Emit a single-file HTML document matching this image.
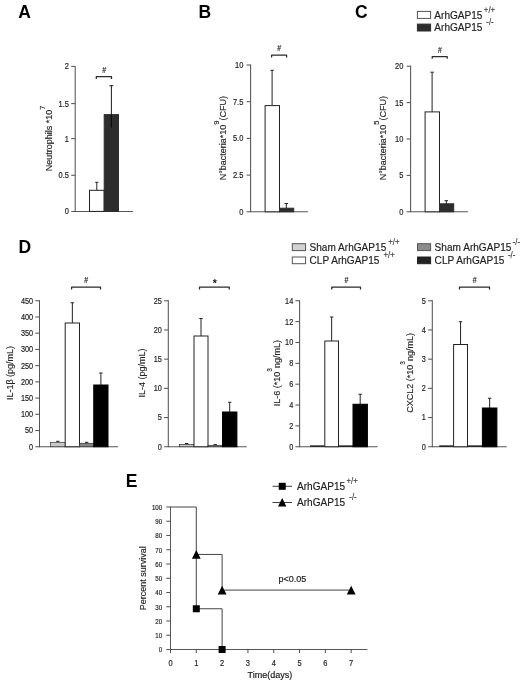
<!DOCTYPE html>
<html lang="en"><head><meta charset="utf-8"><title>Figure</title>
<style>
html,body{margin:0;padding:0;background:#fff}
svg{display:block;font-family:'Liberation Sans', sans-serif}
</style></head><body>
<svg width="520" height="683" viewBox="0 0 520 683">
<rect width="520" height="683" fill="#fff"/>
<g id="fig" style="filter:blur(0.45px)">
<text transform="translate(18.30 18.40) scale(1 1)" font-size="17.5" text-anchor="start" font-weight="bold" fill="#000" stroke="#000" stroke-width="0" >A</text>
<text transform="translate(198.50 18.40) scale(1 1)" font-size="17.5" text-anchor="start" font-weight="bold" fill="#000" stroke="#000" stroke-width="0" >B</text>
<text transform="translate(355.00 18.40) scale(1 1)" font-size="17.5" text-anchor="start" font-weight="bold" fill="#000" stroke="#000" stroke-width="0" >C</text>
<text transform="translate(18.50 252.80) scale(1 1)" font-size="17.5" text-anchor="start" font-weight="bold" fill="#000" stroke="#000" stroke-width="0" >D</text>
<text transform="translate(125.80 486.60) scale(1 1)" font-size="17.5" text-anchor="start" font-weight="bold" fill="#000" stroke="#000" stroke-width="0" >E</text>
<line x1="75.20" y1="65.90" x2="75.20" y2="211.90" stroke="#555" stroke-width="1.05"/>
<line x1="71.20" y1="211.40" x2="132.90" y2="211.40" stroke="#555" stroke-width="1.05"/>
<line x1="71.20" y1="66.40" x2="75.20" y2="66.40" stroke="#555" stroke-width="1.05"/>
<text transform="translate(69.00 69.40) scale(0.88 1)" font-size="8.5" text-anchor="end" font-weight="normal" fill="#222" stroke="#222" stroke-width="0.18" >2</text>
<line x1="71.20" y1="103.60" x2="75.20" y2="103.60" stroke="#555" stroke-width="1.05"/>
<text transform="translate(69.00 106.60) scale(0.88 1)" font-size="8.5" text-anchor="end" font-weight="normal" fill="#222" stroke="#222" stroke-width="0.18" >1.5</text>
<line x1="71.20" y1="138.60" x2="75.20" y2="138.60" stroke="#555" stroke-width="1.05"/>
<text transform="translate(69.00 141.60) scale(0.88 1)" font-size="8.5" text-anchor="end" font-weight="normal" fill="#222" stroke="#222" stroke-width="0.18" >1</text>
<line x1="71.20" y1="175.30" x2="75.20" y2="175.30" stroke="#555" stroke-width="1.05"/>
<text transform="translate(69.00 178.30) scale(0.88 1)" font-size="8.5" text-anchor="end" font-weight="normal" fill="#222" stroke="#222" stroke-width="0.18" >0.5</text>
<text transform="translate(69.00 214.40) scale(0.88 1)" font-size="8.5" text-anchor="end" font-weight="normal" fill="#222" stroke="#222" stroke-width="0.18" >0</text>
<rect x="89.50" y="190.30" width="14.70" height="21.10" fill="#fff" stroke="#222" stroke-width="1"/>
<line x1="96.80" y1="182.30" x2="96.80" y2="190.30" stroke="#222" stroke-width="1"/>
<line x1="95.20" y1="182.30" x2="98.40" y2="182.30" stroke="#222" stroke-width="1"/>
<rect x="104.20" y="114.60" width="14.30" height="96.80" fill="#2d2d2d" stroke="#2d2d2d" stroke-width="1"/>
<line x1="111.40" y1="85.60" x2="111.40" y2="114.60" stroke="#222" stroke-width="1.05"/>
<line x1="111.40" y1="114.60" x2="111.40" y2="127.50" stroke="#0c0c0c" stroke-width="1.2"/>
<line x1="109.40" y1="85.70" x2="113.40" y2="85.70" stroke="#222" stroke-width="1.05"/>
<polyline points="96.30,79.00 96.30,76.70 111.50,76.70 111.50,79.00" fill="none" stroke="#2a2a2a" stroke-width="1.25" stroke-linejoin="round"/>
<text transform="translate(104.10 73.00) scale(0.82 1)" font-size="8.5" text-anchor="middle" font-weight="normal" fill="#222" stroke="#222" stroke-width="0.18" >#</text>
<text transform="translate(51.80 171.20) rotate(-90)" font-size="9" fill="#262626" stroke="#262626" stroke-width="0.15">Neutrophils *10<tspan font-size="7.5" dy="-6.9">7</tspan><tspan dy="6.9" font-size="0.1"> </tspan></text>
<line x1="250.60" y1="64.50" x2="250.60" y2="212.30" stroke="#555" stroke-width="1.05"/>
<line x1="246.60" y1="211.80" x2="307.90" y2="211.80" stroke="#555" stroke-width="1.05"/>
<line x1="246.60" y1="65.00" x2="250.60" y2="65.00" stroke="#555" stroke-width="1.05"/>
<text transform="translate(243.30 68.00) scale(0.88 1)" font-size="8.5" text-anchor="end" font-weight="normal" fill="#222" stroke="#222" stroke-width="0.18" >10</text>
<line x1="246.60" y1="101.70" x2="250.60" y2="101.70" stroke="#555" stroke-width="1.05"/>
<text transform="translate(243.30 104.70) scale(0.88 1)" font-size="8.5" text-anchor="end" font-weight="normal" fill="#222" stroke="#222" stroke-width="0.18" >7.5</text>
<line x1="246.60" y1="138.40" x2="250.60" y2="138.40" stroke="#555" stroke-width="1.05"/>
<text transform="translate(243.30 141.40) scale(0.88 1)" font-size="8.5" text-anchor="end" font-weight="normal" fill="#222" stroke="#222" stroke-width="0.18" >5.0</text>
<line x1="246.60" y1="175.10" x2="250.60" y2="175.10" stroke="#555" stroke-width="1.05"/>
<text transform="translate(243.30 178.10) scale(0.88 1)" font-size="8.5" text-anchor="end" font-weight="normal" fill="#222" stroke="#222" stroke-width="0.18" >2.5</text>
<text transform="translate(243.30 214.80) scale(0.88 1)" font-size="8.5" text-anchor="end" font-weight="normal" fill="#222" stroke="#222" stroke-width="0.18" >0</text>
<rect x="265.10" y="105.60" width="14.40" height="106.20" fill="#fff" stroke="#222" stroke-width="1"/>
<line x1="272.10" y1="70.30" x2="272.10" y2="105.60" stroke="#222" stroke-width="1"/>
<line x1="270.40" y1="70.30" x2="273.80" y2="70.30" stroke="#222" stroke-width="1"/>
<rect x="279.50" y="208.20" width="14.20" height="3.60" fill="#2d2d2d" stroke="#2d2d2d" stroke-width="1"/>
<line x1="286.30" y1="203.50" x2="286.30" y2="208.20" stroke="#222" stroke-width="1"/>
<line x1="284.60" y1="203.50" x2="288.00" y2="203.50" stroke="#222" stroke-width="1"/>
<text transform="translate(225.90 180.30) rotate(-90)" font-size="9" fill="#262626" stroke="#262626" stroke-width="0.15">N°bacteria*10<tspan font-size="7.5" dy="-6.9">9</tspan><tspan dy="6.9" font-size="0.1"> </tspan>(CFU)</text>
<polyline points="271.60,57.40 271.60,55.10 286.60,55.10 286.60,57.40" fill="none" stroke="#2a2a2a" stroke-width="1.25" stroke-linejoin="round"/>
<text transform="translate(279.30 50.90) scale(0.82 1)" font-size="8.5" text-anchor="middle" font-weight="normal" fill="#222" stroke="#222" stroke-width="0.18" >#</text>
<line x1="410.60" y1="65.70" x2="410.60" y2="212.30" stroke="#555" stroke-width="1.05"/>
<line x1="406.60" y1="211.80" x2="467.90" y2="211.80" stroke="#555" stroke-width="1.05"/>
<line x1="406.60" y1="66.20" x2="410.60" y2="66.20" stroke="#555" stroke-width="1.05"/>
<text transform="translate(403.30 69.20) scale(0.88 1)" font-size="8.5" text-anchor="end" font-weight="normal" fill="#222" stroke="#222" stroke-width="0.18" >20</text>
<line x1="406.60" y1="102.60" x2="410.60" y2="102.60" stroke="#555" stroke-width="1.05"/>
<text transform="translate(403.30 105.60) scale(0.88 1)" font-size="8.5" text-anchor="end" font-weight="normal" fill="#222" stroke="#222" stroke-width="0.18" >15</text>
<line x1="406.60" y1="139.00" x2="410.60" y2="139.00" stroke="#555" stroke-width="1.05"/>
<text transform="translate(403.30 142.00) scale(0.88 1)" font-size="8.5" text-anchor="end" font-weight="normal" fill="#222" stroke="#222" stroke-width="0.18" >10</text>
<line x1="406.60" y1="175.40" x2="410.60" y2="175.40" stroke="#555" stroke-width="1.05"/>
<text transform="translate(403.30 178.40) scale(0.88 1)" font-size="8.5" text-anchor="end" font-weight="normal" fill="#222" stroke="#222" stroke-width="0.18" >5</text>
<text transform="translate(403.30 214.80) scale(0.88 1)" font-size="8.5" text-anchor="end" font-weight="normal" fill="#222" stroke="#222" stroke-width="0.18" >0</text>
<rect x="425.10" y="111.90" width="14.40" height="99.90" fill="#fff" stroke="#222" stroke-width="1"/>
<line x1="432.10" y1="72.20" x2="432.10" y2="111.90" stroke="#222" stroke-width="1"/>
<line x1="430.40" y1="72.20" x2="433.80" y2="72.20" stroke="#222" stroke-width="1"/>
<rect x="439.50" y="203.80" width="14.20" height="8.00" fill="#2d2d2d" stroke="#2d2d2d" stroke-width="1"/>
<line x1="446.30" y1="200.70" x2="446.30" y2="203.80" stroke="#222" stroke-width="1"/>
<line x1="444.60" y1="200.70" x2="448.00" y2="200.70" stroke="#222" stroke-width="1"/>
<text transform="translate(385.90 180.30) rotate(-90)" font-size="9" fill="#262626" stroke="#262626" stroke-width="0.15">N°bacteria*10<tspan font-size="7.5" dy="-6.9">5</tspan><tspan dy="6.9" font-size="0.1"> </tspan>(CFU)</text>
<polyline points="432.20,58.80 432.20,56.50 447.20,56.50 447.20,58.80" fill="none" stroke="#2a2a2a" stroke-width="1.25" stroke-linejoin="round"/>
<text transform="translate(439.90 52.50) scale(0.82 1)" font-size="8.5" text-anchor="middle" font-weight="normal" fill="#222" stroke="#222" stroke-width="0.18" >#</text>
<rect x="417.40" y="11.40" width="13.20" height="7.00" fill="#fff" stroke="#555" stroke-width="1"/>
<rect x="417.40" y="24.10" width="13.20" height="6.90" fill="#2d2d2d" stroke="#2d2d2d" stroke-width="1"/>
<text transform="translate(434.30 18.50) scale(0.97 1)" font-size="10.4" text-anchor="start" font-weight="normal" fill="#222" stroke="#222" stroke-width="0.18" >ArhGAP15</text>
<text transform="translate(483.80 12.60) scale(0.95 1)" font-size="8.3" text-anchor="start" font-weight="normal" fill="#333" stroke="#333" stroke-width="0.12" >+/+</text>
<text transform="translate(434.30 31.00) scale(0.97 1)" font-size="10.4" text-anchor="start" font-weight="normal" fill="#222" stroke="#222" stroke-width="0.18" >ArhGAP15</text>
<text transform="translate(486.30 25.20) scale(0.95 1)" font-size="8.3" text-anchor="start" font-weight="normal" fill="#333" stroke="#333" stroke-width="0.12" >-/-</text>
<line x1="39.50" y1="300.25" x2="39.50" y2="447.25" stroke="#555" stroke-width="1.05"/>
<line x1="35.30" y1="446.75" x2="118.00" y2="446.75" stroke="#555" stroke-width="1.05"/>
<line x1="35.30" y1="300.75" x2="39.50" y2="300.75" stroke="#555" stroke-width="1.05"/>
<text transform="translate(33.10 303.67) scale(0.88 1)" font-size="8.3" text-anchor="end" font-weight="normal" fill="#222" stroke="#222" stroke-width="0.18" >450</text>
<line x1="35.30" y1="316.97" x2="39.50" y2="316.97" stroke="#555" stroke-width="1.05"/>
<text transform="translate(33.10 319.89) scale(0.88 1)" font-size="8.3" text-anchor="end" font-weight="normal" fill="#222" stroke="#222" stroke-width="0.18" >400</text>
<line x1="35.30" y1="333.19" x2="39.50" y2="333.19" stroke="#555" stroke-width="1.05"/>
<text transform="translate(33.10 336.11) scale(0.88 1)" font-size="8.3" text-anchor="end" font-weight="normal" fill="#222" stroke="#222" stroke-width="0.18" >350</text>
<line x1="35.30" y1="349.42" x2="39.50" y2="349.42" stroke="#555" stroke-width="1.05"/>
<text transform="translate(33.10 352.34) scale(0.88 1)" font-size="8.3" text-anchor="end" font-weight="normal" fill="#222" stroke="#222" stroke-width="0.18" >300</text>
<line x1="35.30" y1="365.64" x2="39.50" y2="365.64" stroke="#555" stroke-width="1.05"/>
<text transform="translate(33.10 368.56) scale(0.88 1)" font-size="8.3" text-anchor="end" font-weight="normal" fill="#222" stroke="#222" stroke-width="0.18" >250</text>
<line x1="35.30" y1="381.86" x2="39.50" y2="381.86" stroke="#555" stroke-width="1.05"/>
<text transform="translate(33.10 384.78) scale(0.88 1)" font-size="8.3" text-anchor="end" font-weight="normal" fill="#222" stroke="#222" stroke-width="0.18" >200</text>
<line x1="35.30" y1="398.08" x2="39.50" y2="398.08" stroke="#555" stroke-width="1.05"/>
<text transform="translate(33.10 401.00) scale(0.88 1)" font-size="8.3" text-anchor="end" font-weight="normal" fill="#222" stroke="#222" stroke-width="0.18" >150</text>
<line x1="35.30" y1="414.31" x2="39.50" y2="414.31" stroke="#555" stroke-width="1.05"/>
<text transform="translate(33.10 417.23) scale(0.88 1)" font-size="8.3" text-anchor="end" font-weight="normal" fill="#222" stroke="#222" stroke-width="0.18" >100</text>
<line x1="35.30" y1="430.53" x2="39.50" y2="430.53" stroke="#555" stroke-width="1.05"/>
<text transform="translate(33.10 433.45) scale(0.88 1)" font-size="8.3" text-anchor="end" font-weight="normal" fill="#222" stroke="#222" stroke-width="0.18" >50</text>
<text transform="translate(33.10 449.67) scale(0.88 1)" font-size="8.3" text-anchor="end" font-weight="normal" fill="#222" stroke="#222" stroke-width="0.18" >0</text>
<line x1="57.85" y1="441.30" x2="57.85" y2="442.30" stroke="#222" stroke-width="1"/>
<line x1="56.15" y1="441.30" x2="59.55" y2="441.30" stroke="#222" stroke-width="1"/>
<rect x="50.50" y="442.30" width="14.70" height="4.45" fill="#c8c8c8" stroke="#333" stroke-width="0.7"/>
<line x1="72.35" y1="302.75" x2="72.35" y2="323.00" stroke="#222" stroke-width="1"/>
<line x1="70.65" y1="302.75" x2="74.05" y2="302.75" stroke="#222" stroke-width="1"/>
<rect x="65.20" y="323.00" width="14.30" height="123.75" fill="#fff" stroke="#222" stroke-width="1"/>
<line x1="86.62" y1="442.30" x2="86.62" y2="443.30" stroke="#222" stroke-width="1"/>
<line x1="84.92" y1="442.30" x2="88.33" y2="442.30" stroke="#222" stroke-width="1"/>
<rect x="79.50" y="443.30" width="14.25" height="3.45" fill="#858585" stroke="#333" stroke-width="0.7"/>
<line x1="100.88" y1="373.00" x2="100.88" y2="385.00" stroke="#222" stroke-width="1"/>
<line x1="99.17" y1="373.00" x2="102.58" y2="373.00" stroke="#222" stroke-width="1"/>
<rect x="93.75" y="385.00" width="14.25" height="61.75" fill="#000" stroke="#000" stroke-width="1"/>
<text transform="translate(12.60 400.10) rotate(-90)" font-size="9" fill="#262626" stroke="#262626" stroke-width="0.15">IL-1β (pg/mL)</text>
<polyline points="71.60,289.50 71.60,287.20 100.50,287.20 100.50,289.50" fill="none" stroke="#2a2a2a" stroke-width="1.25" stroke-linejoin="round"/>
<text transform="translate(86.25 282.80) scale(0.82 1)" font-size="8.5" text-anchor="middle" font-weight="normal" fill="#222" stroke="#222" stroke-width="0.18" >#</text>
<line x1="168.30" y1="300.25" x2="168.30" y2="447.25" stroke="#555" stroke-width="1.05"/>
<line x1="164.10" y1="446.75" x2="246.75" y2="446.75" stroke="#555" stroke-width="1.05"/>
<line x1="164.10" y1="300.75" x2="168.30" y2="300.75" stroke="#555" stroke-width="1.05"/>
<text transform="translate(161.90 303.67) scale(0.88 1)" font-size="8.3" text-anchor="end" font-weight="normal" fill="#222" stroke="#222" stroke-width="0.18" >25</text>
<line x1="164.10" y1="329.95" x2="168.30" y2="329.95" stroke="#555" stroke-width="1.05"/>
<text transform="translate(161.90 332.87) scale(0.88 1)" font-size="8.3" text-anchor="end" font-weight="normal" fill="#222" stroke="#222" stroke-width="0.18" >20</text>
<line x1="164.10" y1="359.15" x2="168.30" y2="359.15" stroke="#555" stroke-width="1.05"/>
<text transform="translate(161.90 362.07) scale(0.88 1)" font-size="8.3" text-anchor="end" font-weight="normal" fill="#222" stroke="#222" stroke-width="0.18" >15</text>
<line x1="164.10" y1="388.35" x2="168.30" y2="388.35" stroke="#555" stroke-width="1.05"/>
<text transform="translate(161.90 391.27) scale(0.88 1)" font-size="8.3" text-anchor="end" font-weight="normal" fill="#222" stroke="#222" stroke-width="0.18" >10</text>
<line x1="164.10" y1="417.55" x2="168.30" y2="417.55" stroke="#555" stroke-width="1.05"/>
<text transform="translate(161.90 420.47) scale(0.88 1)" font-size="8.3" text-anchor="end" font-weight="normal" fill="#222" stroke="#222" stroke-width="0.18" >5</text>
<text transform="translate(161.90 449.67) scale(0.88 1)" font-size="8.3" text-anchor="end" font-weight="normal" fill="#222" stroke="#222" stroke-width="0.18" >0</text>
<line x1="186.70" y1="443.50" x2="186.70" y2="444.50" stroke="#222" stroke-width="1"/>
<line x1="185.00" y1="443.50" x2="188.40" y2="443.50" stroke="#222" stroke-width="1"/>
<rect x="179.40" y="444.50" width="14.60" height="2.25" fill="#c8c8c8" stroke="#333" stroke-width="0.7"/>
<line x1="201.00" y1="318.50" x2="201.00" y2="336.00" stroke="#222" stroke-width="1"/>
<line x1="199.30" y1="318.50" x2="202.70" y2="318.50" stroke="#222" stroke-width="1"/>
<rect x="194.00" y="336.00" width="14.00" height="110.75" fill="#fff" stroke="#222" stroke-width="1"/>
<line x1="215.25" y1="444.60" x2="215.25" y2="445.30" stroke="#222" stroke-width="1"/>
<line x1="213.55" y1="444.60" x2="216.95" y2="444.60" stroke="#222" stroke-width="1"/>
<rect x="208.00" y="445.30" width="14.50" height="1.45" fill="#858585" stroke="#333" stroke-width="0.7"/>
<line x1="229.70" y1="402.25" x2="229.70" y2="412.00" stroke="#222" stroke-width="1"/>
<line x1="228.00" y1="402.25" x2="231.40" y2="402.25" stroke="#222" stroke-width="1"/>
<rect x="222.50" y="412.00" width="14.40" height="34.75" fill="#000" stroke="#000" stroke-width="1"/>
<text transform="translate(144.60 397.50) rotate(-90)" font-size="9" fill="#262626" stroke="#262626" stroke-width="0.15">IL-4 (pg/mL)</text>
<polyline points="199.50,289.50 199.50,287.20 229.25,287.20 229.25,289.50" fill="none" stroke="#2a2a2a" stroke-width="1.25" stroke-linejoin="round"/>
<text transform="translate(214.78 287.00) scale(1 1)" font-size="10.5" text-anchor="middle" font-weight="bold" fill="#111" stroke="#111" stroke-width="0" >*</text>
<line x1="299.60" y1="300.25" x2="299.60" y2="447.25" stroke="#555" stroke-width="1.05"/>
<line x1="295.40" y1="446.75" x2="377.50" y2="446.75" stroke="#555" stroke-width="1.05"/>
<line x1="295.40" y1="300.75" x2="299.60" y2="300.75" stroke="#555" stroke-width="1.05"/>
<text transform="translate(293.20 303.67) scale(0.88 1)" font-size="8.3" text-anchor="end" font-weight="normal" fill="#222" stroke="#222" stroke-width="0.18" >14</text>
<line x1="295.40" y1="321.61" x2="299.60" y2="321.61" stroke="#555" stroke-width="1.05"/>
<text transform="translate(293.20 324.53) scale(0.88 1)" font-size="8.3" text-anchor="end" font-weight="normal" fill="#222" stroke="#222" stroke-width="0.18" >12</text>
<line x1="295.40" y1="342.46" x2="299.60" y2="342.46" stroke="#555" stroke-width="1.05"/>
<text transform="translate(293.20 345.38) scale(0.88 1)" font-size="8.3" text-anchor="end" font-weight="normal" fill="#222" stroke="#222" stroke-width="0.18" >10</text>
<line x1="295.40" y1="363.32" x2="299.60" y2="363.32" stroke="#555" stroke-width="1.05"/>
<text transform="translate(293.20 366.24) scale(0.88 1)" font-size="8.3" text-anchor="end" font-weight="normal" fill="#222" stroke="#222" stroke-width="0.18" >8</text>
<line x1="295.40" y1="384.18" x2="299.60" y2="384.18" stroke="#555" stroke-width="1.05"/>
<text transform="translate(293.20 387.10) scale(0.88 1)" font-size="8.3" text-anchor="end" font-weight="normal" fill="#222" stroke="#222" stroke-width="0.18" >6</text>
<line x1="295.40" y1="405.04" x2="299.60" y2="405.04" stroke="#555" stroke-width="1.05"/>
<text transform="translate(293.20 407.96) scale(0.88 1)" font-size="8.3" text-anchor="end" font-weight="normal" fill="#222" stroke="#222" stroke-width="0.18" >4</text>
<line x1="295.40" y1="425.89" x2="299.60" y2="425.89" stroke="#555" stroke-width="1.05"/>
<text transform="translate(293.20 428.81) scale(0.88 1)" font-size="8.3" text-anchor="end" font-weight="normal" fill="#222" stroke="#222" stroke-width="0.18" >2</text>
<text transform="translate(293.20 449.67) scale(0.88 1)" font-size="8.3" text-anchor="end" font-weight="normal" fill="#222" stroke="#222" stroke-width="0.18" >0</text>
<line x1="310.00" y1="446.15" x2="324.80" y2="446.15" stroke="#222" stroke-width="1.6"/>
<line x1="331.65" y1="317.00" x2="331.65" y2="341.00" stroke="#222" stroke-width="1"/>
<line x1="329.95" y1="317.00" x2="333.35" y2="317.00" stroke="#222" stroke-width="1"/>
<rect x="324.80" y="341.00" width="13.70" height="105.75" fill="#fff" stroke="#222" stroke-width="1"/>
<line x1="338.50" y1="446.15" x2="353.00" y2="446.15" stroke="#222" stroke-width="1.6"/>
<line x1="360.20" y1="394.25" x2="360.20" y2="404.25" stroke="#222" stroke-width="1"/>
<line x1="358.50" y1="394.25" x2="361.90" y2="394.25" stroke="#222" stroke-width="1"/>
<rect x="353.00" y="404.25" width="14.40" height="42.50" fill="#000" stroke="#000" stroke-width="1"/>
<text transform="translate(280.40 406.30) rotate(-90)" font-size="9" fill="#262626" stroke="#262626" stroke-width="0.15">IL-6 (*10<tspan font-size="6.5" dy="-8.0">3</tspan><tspan dy="8.0" font-size="0.1"> </tspan>ng/mL)</text>
<polyline points="331.75,289.50 331.75,287.20 360.50,287.20 360.50,289.50" fill="none" stroke="#2a2a2a" stroke-width="1.25" stroke-linejoin="round"/>
<text transform="translate(346.32 282.80) scale(0.82 1)" font-size="8.5" text-anchor="middle" font-weight="normal" fill="#222" stroke="#222" stroke-width="0.18" >#</text>
<line x1="432.30" y1="300.25" x2="432.30" y2="447.25" stroke="#555" stroke-width="1.05"/>
<line x1="428.10" y1="446.75" x2="506.75" y2="446.75" stroke="#555" stroke-width="1.05"/>
<line x1="428.10" y1="300.75" x2="432.30" y2="300.75" stroke="#555" stroke-width="1.05"/>
<text transform="translate(425.90 303.67) scale(0.88 1)" font-size="8.3" text-anchor="end" font-weight="normal" fill="#222" stroke="#222" stroke-width="0.18" >5</text>
<line x1="428.10" y1="329.95" x2="432.30" y2="329.95" stroke="#555" stroke-width="1.05"/>
<text transform="translate(425.90 332.87) scale(0.88 1)" font-size="8.3" text-anchor="end" font-weight="normal" fill="#222" stroke="#222" stroke-width="0.18" >4</text>
<line x1="428.10" y1="359.15" x2="432.30" y2="359.15" stroke="#555" stroke-width="1.05"/>
<text transform="translate(425.90 362.07) scale(0.88 1)" font-size="8.3" text-anchor="end" font-weight="normal" fill="#222" stroke="#222" stroke-width="0.18" >3</text>
<line x1="428.10" y1="388.35" x2="432.30" y2="388.35" stroke="#555" stroke-width="1.05"/>
<text transform="translate(425.90 391.27) scale(0.88 1)" font-size="8.3" text-anchor="end" font-weight="normal" fill="#222" stroke="#222" stroke-width="0.18" >2</text>
<line x1="428.10" y1="417.55" x2="432.30" y2="417.55" stroke="#555" stroke-width="1.05"/>
<text transform="translate(425.90 420.47) scale(0.88 1)" font-size="8.3" text-anchor="end" font-weight="normal" fill="#222" stroke="#222" stroke-width="0.18" >1</text>
<text transform="translate(425.90 449.67) scale(0.88 1)" font-size="8.3" text-anchor="end" font-weight="normal" fill="#222" stroke="#222" stroke-width="0.18" >0</text>
<line x1="439.25" y1="446.15" x2="453.60" y2="446.15" stroke="#222" stroke-width="1.6"/>
<line x1="460.55" y1="321.75" x2="460.55" y2="344.50" stroke="#222" stroke-width="1"/>
<line x1="458.85" y1="321.75" x2="462.25" y2="321.75" stroke="#222" stroke-width="1"/>
<rect x="453.60" y="344.50" width="13.90" height="102.25" fill="#fff" stroke="#222" stroke-width="1"/>
<line x1="467.50" y1="446.15" x2="482.40" y2="446.15" stroke="#222" stroke-width="1.6"/>
<line x1="489.65" y1="398.25" x2="489.65" y2="408.00" stroke="#222" stroke-width="1"/>
<line x1="487.95" y1="398.25" x2="491.35" y2="398.25" stroke="#222" stroke-width="1"/>
<rect x="482.40" y="408.00" width="14.50" height="38.75" fill="#000" stroke="#000" stroke-width="1"/>
<text transform="translate(412.60 412.80) rotate(-90)" font-size="9" fill="#262626" stroke="#262626" stroke-width="0.15">CXCL2 (*10<tspan font-size="6.5" dy="-8.0">3</tspan><tspan dy="8.0" font-size="0.1"> </tspan>ng/mL)</text>
<polyline points="459.50,289.50 459.50,287.20 489.50,287.20 489.50,289.50" fill="none" stroke="#2a2a2a" stroke-width="1.25" stroke-linejoin="round"/>
<text transform="translate(474.70 282.80) scale(0.82 1)" font-size="8.5" text-anchor="middle" font-weight="normal" fill="#222" stroke="#222" stroke-width="0.18" >#</text>
<rect x="292.30" y="243.70" width="13.30" height="6.90" fill="#d2d2d2" stroke="#555" stroke-width="1"/>
<rect x="292.30" y="257.00" width="13.30" height="6.70" fill="#fff" stroke="#555" stroke-width="1"/>
<rect x="417.50" y="243.70" width="13.10" height="6.90" fill="#8c8c8c" stroke="#555" stroke-width="1"/>
<rect x="417.50" y="257.00" width="13.10" height="6.70" fill="#222" stroke="#222" stroke-width="1"/>
<text transform="translate(309.50 250.90) scale(0.97 1)" font-size="10.4" text-anchor="start" font-weight="normal" fill="#222" stroke="#222" stroke-width="0.18" >Sham ArhGAP15</text>
<text transform="translate(388.20 244.80) scale(0.95 1)" font-size="8.3" text-anchor="start" font-weight="normal" fill="#333" stroke="#333" stroke-width="0.12" >+/+</text>
<text transform="translate(309.50 263.80) scale(0.97 1)" font-size="10.4" text-anchor="start" font-weight="normal" fill="#222" stroke="#222" stroke-width="0.18" >CLP ArhGAP15</text>
<text transform="translate(383.40 257.80) scale(0.95 1)" font-size="8.3" text-anchor="start" font-weight="normal" fill="#333" stroke="#333" stroke-width="0.12" >+/+</text>
<text transform="translate(434.60 250.90) scale(0.97 1)" font-size="10.4" text-anchor="start" font-weight="normal" fill="#222" stroke="#222" stroke-width="0.18" >Sham ArhGAP15</text>
<text transform="translate(512.60 244.80) scale(0.95 1)" font-size="8.3" text-anchor="start" font-weight="normal" fill="#333" stroke="#333" stroke-width="0.12" >-/-</text>
<text transform="translate(434.60 263.80) scale(0.97 1)" font-size="10.4" text-anchor="start" font-weight="normal" fill="#222" stroke="#222" stroke-width="0.18" >CLP ArhGAP15</text>
<text transform="translate(508.00 257.80) scale(0.95 1)" font-size="8.3" text-anchor="start" font-weight="normal" fill="#333" stroke="#333" stroke-width="0.12" >-/-</text>
<line x1="170.50" y1="506.50" x2="170.50" y2="650.00" stroke="#555" stroke-width="1.05"/>
<line x1="166.30" y1="649.50" x2="367.40" y2="649.50" stroke="#555" stroke-width="1.05"/>
<line x1="166.30" y1="507.00" x2="170.50" y2="507.00" stroke="#555" stroke-width="1.05"/>
<text transform="translate(162.20 509.75) scale(0.8 1)" font-size="7.7" text-anchor="end" font-weight="normal" fill="#222" stroke="#222" stroke-width="0.18" >100</text>
<line x1="166.30" y1="521.25" x2="170.50" y2="521.25" stroke="#555" stroke-width="1.05"/>
<text transform="translate(162.20 524.00) scale(0.8 1)" font-size="7.7" text-anchor="end" font-weight="normal" fill="#222" stroke="#222" stroke-width="0.18" >90</text>
<line x1="166.30" y1="535.50" x2="170.50" y2="535.50" stroke="#555" stroke-width="1.05"/>
<text transform="translate(162.20 538.25) scale(0.8 1)" font-size="7.7" text-anchor="end" font-weight="normal" fill="#222" stroke="#222" stroke-width="0.18" >80</text>
<line x1="166.30" y1="549.75" x2="170.50" y2="549.75" stroke="#555" stroke-width="1.05"/>
<text transform="translate(162.20 552.50) scale(0.8 1)" font-size="7.7" text-anchor="end" font-weight="normal" fill="#222" stroke="#222" stroke-width="0.18" >70</text>
<line x1="166.30" y1="564.00" x2="170.50" y2="564.00" stroke="#555" stroke-width="1.05"/>
<text transform="translate(162.20 566.75) scale(0.8 1)" font-size="7.7" text-anchor="end" font-weight="normal" fill="#222" stroke="#222" stroke-width="0.18" >60</text>
<line x1="166.30" y1="578.25" x2="170.50" y2="578.25" stroke="#555" stroke-width="1.05"/>
<text transform="translate(162.20 581.00) scale(0.8 1)" font-size="7.7" text-anchor="end" font-weight="normal" fill="#222" stroke="#222" stroke-width="0.18" >50</text>
<line x1="166.30" y1="592.50" x2="170.50" y2="592.50" stroke="#555" stroke-width="1.05"/>
<text transform="translate(162.20 595.25) scale(0.8 1)" font-size="7.7" text-anchor="end" font-weight="normal" fill="#222" stroke="#222" stroke-width="0.18" >40</text>
<line x1="166.30" y1="606.75" x2="170.50" y2="606.75" stroke="#555" stroke-width="1.05"/>
<text transform="translate(162.20 609.50) scale(0.8 1)" font-size="7.7" text-anchor="end" font-weight="normal" fill="#222" stroke="#222" stroke-width="0.18" >30</text>
<line x1="166.30" y1="621.00" x2="170.50" y2="621.00" stroke="#555" stroke-width="1.05"/>
<text transform="translate(162.20 623.75) scale(0.8 1)" font-size="7.7" text-anchor="end" font-weight="normal" fill="#222" stroke="#222" stroke-width="0.18" >20</text>
<line x1="166.30" y1="635.25" x2="170.50" y2="635.25" stroke="#555" stroke-width="1.05"/>
<text transform="translate(162.20 638.00) scale(0.8 1)" font-size="7.7" text-anchor="end" font-weight="normal" fill="#222" stroke="#222" stroke-width="0.18" >10</text>
<text transform="translate(162.20 652.25) scale(0.8 1)" font-size="7.7" text-anchor="end" font-weight="normal" fill="#222" stroke="#222" stroke-width="0.18" >0</text>
<line x1="170.50" y1="649.50" x2="170.50" y2="653.10" stroke="#555" stroke-width="1.05"/>
<text transform="translate(170.50 665.80) scale(0.88 1)" font-size="8.5" text-anchor="middle" font-weight="normal" fill="#222" stroke="#222" stroke-width="0.18" >0</text>
<line x1="196.31" y1="649.50" x2="196.31" y2="653.10" stroke="#555" stroke-width="1.05"/>
<text transform="translate(196.31 665.80) scale(0.88 1)" font-size="8.5" text-anchor="middle" font-weight="normal" fill="#222" stroke="#222" stroke-width="0.18" >1</text>
<line x1="222.12" y1="649.50" x2="222.12" y2="653.10" stroke="#555" stroke-width="1.05"/>
<text transform="translate(222.12 665.80) scale(0.88 1)" font-size="8.5" text-anchor="middle" font-weight="normal" fill="#222" stroke="#222" stroke-width="0.18" >2</text>
<line x1="247.93" y1="649.50" x2="247.93" y2="653.10" stroke="#555" stroke-width="1.05"/>
<text transform="translate(247.93 665.80) scale(0.88 1)" font-size="8.5" text-anchor="middle" font-weight="normal" fill="#222" stroke="#222" stroke-width="0.18" >3</text>
<line x1="273.74" y1="649.50" x2="273.74" y2="653.10" stroke="#555" stroke-width="1.05"/>
<text transform="translate(273.74 665.80) scale(0.88 1)" font-size="8.5" text-anchor="middle" font-weight="normal" fill="#222" stroke="#222" stroke-width="0.18" >4</text>
<line x1="299.55" y1="649.50" x2="299.55" y2="653.10" stroke="#555" stroke-width="1.05"/>
<text transform="translate(299.55 665.80) scale(0.88 1)" font-size="8.5" text-anchor="middle" font-weight="normal" fill="#222" stroke="#222" stroke-width="0.18" >5</text>
<line x1="325.36" y1="649.50" x2="325.36" y2="653.10" stroke="#555" stroke-width="1.05"/>
<text transform="translate(325.36 665.80) scale(0.88 1)" font-size="8.5" text-anchor="middle" font-weight="normal" fill="#222" stroke="#222" stroke-width="0.18" >6</text>
<line x1="351.17" y1="649.50" x2="351.17" y2="653.10" stroke="#555" stroke-width="1.05"/>
<text transform="translate(351.17 665.80) scale(0.88 1)" font-size="8.5" text-anchor="middle" font-weight="normal" fill="#222" stroke="#222" stroke-width="0.18" >7</text>
<text transform="translate(146.20 610.20) rotate(-90)" font-size="9" fill="#262626" stroke="#262626" stroke-width="0.15">Percent survival</text>
<text transform="translate(247.50 677.70) scale(1 1)" font-size="9" text-anchor="start" font-weight="normal" fill="#1a1a1a" stroke="#1a1a1a" stroke-width="0.18" >Time(days)</text>
<text transform="translate(278.50 582.30) scale(1 1)" font-size="9" text-anchor="start" font-weight="normal" fill="#1a1a1a" stroke="#1a1a1a" stroke-width="0.18" >p&lt;0.05</text>
<polyline points="170.50,507.00 196.31,507.00 196.31,554.45 222.12,554.45 222.12,590.08 351.17,590.08" fill="none" stroke="#444" stroke-width="1"/>
<polyline points="196.31,554.45 196.31,608.75 222.12,608.75 222.12,649.50" fill="none" stroke="#444" stroke-width="1"/>
<polygon points="196.31,550.05 200.71,558.85 191.91,558.85" fill="#000"/>
<polygon points="222.12,585.68 226.52,594.48 217.72,594.48" fill="#000"/>
<polygon points="351.17,585.68 355.57,594.48 346.77,594.48" fill="#000"/>
<rect x="192.81" y="605.25" width="7" height="7" fill="#000"/>
<rect x="218.62" y="646.00" width="7" height="7" fill="#000"/>
<line x1="272.50" y1="486.30" x2="292.00" y2="486.30" stroke="#444" stroke-width="1.05"/>
<rect x="278.75" y="482.80" width="7" height="7" fill="#000"/>
<line x1="272.50" y1="502.50" x2="292.00" y2="502.50" stroke="#444" stroke-width="1.05"/>
<polygon points="282.20,498.00 286.40,506.40 278.00,506.40" fill="#000"/>
<text transform="translate(297.00 489.60) scale(0.97 1)" font-size="10.4" text-anchor="start" font-weight="normal" fill="#222" stroke="#222" stroke-width="0.18" >ArhGAP15</text>
<text transform="translate(346.40 484.00) scale(0.95 1)" font-size="8.3" text-anchor="start" font-weight="normal" fill="#333" stroke="#333" stroke-width="0.12" >+/+</text>
<text transform="translate(297.00 505.90) scale(0.97 1)" font-size="10.4" text-anchor="start" font-weight="normal" fill="#222" stroke="#222" stroke-width="0.18" >ArhGAP15</text>
<text transform="translate(349.30 500.40) scale(0.95 1)" font-size="8.3" text-anchor="start" font-weight="normal" fill="#333" stroke="#333" stroke-width="0.12" >-/-</text>
</g>
</svg>
</body></html>
